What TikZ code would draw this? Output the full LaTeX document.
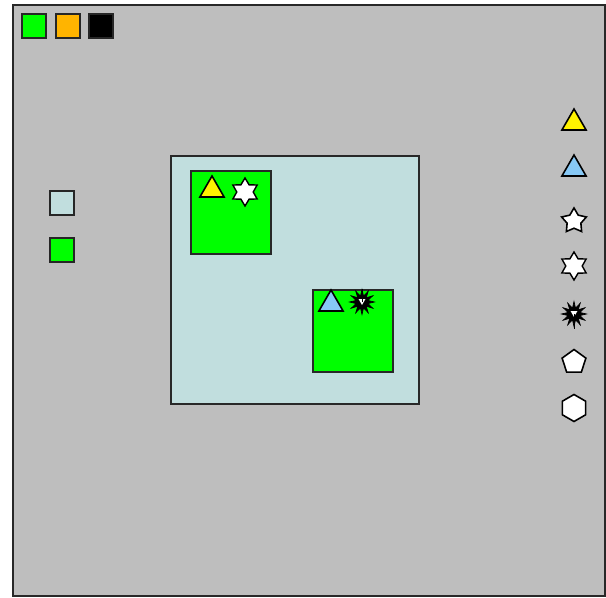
\documentclass[tikz,border=0pt]{standalone}
\usepackage{tikz}
\usetikzlibrary{shapes.geometric}
\definecolor{bggray}{RGB}{190,190,190}
\definecolor{paleblue}{RGB}{193,222,222}
\definecolor{keyorange}{RGB}{255,180,0}
\definecolor{skyblue}{RGB}{135,200,245}
\definecolor{framegray}{RGB}{40,40,40}

\begin{document}
\begin{tikzpicture}[x=0.02cm, y=-0.02cm]
\tikzset{box/.style={draw=framegray, line width=1.1pt, inner sep=0pt, anchor=north west}}
\tikzset{key/.style={box, draw=black!85, minimum size=0.48cm}}
\tikzset{tri/.style={draw=black, line width=0.9pt, regular polygon, regular polygon sides=3, minimum size=0.56cm, inner sep=0pt}}
\tikzset{starsix/.style={draw=black, fill=white, line width=0.8pt, star, star points=6, star point ratio=1.7, minimum size=0.56cm, inner sep=0pt}}
\tikzset{starfive/.style={draw=black, fill=white, line width=0.9pt, star, star points=5, star point ratio=1.8, minimum size=0.52cm, inner sep=0pt}}
\tikzset{burst/.style={draw=black, fill=black, line width=0.4pt, star, star points=12, star point ratio=2.1, minimum size=0.5cm, inner sep=0pt}}
\tikzset{poly/.style={draw=black, fill=white, line width=0.9pt, regular polygon, minimum size=0.5cm, inner sep=0pt}}
\useasboundingbox (0,0) rectangle (606,598);
% frame and nested boxes
\node[box, fill=bggray, line width=1.3pt, minimum width=11.84cm, minimum height=11.82cm] (frame) at (12,4) {};
\node[box, fill=paleblue, minimum size=4.96cm] (outer) at (170,155) {};
\node[box, fill=green, minimum width=1.6cm, minimum height=1.66cm] (boxa) at (190,170) {};
\node[box, fill=green, minimum width=1.6cm, minimum height=1.64cm] (boxb) at (312,289) {};
% keys
\node[key, fill=green] (k1) at (21,13) {};
\node[key, fill=keyorange] (k2) at (55,13) {};
\node[key, fill=black] (k3) at (88,13) {};
\node[key, fill=paleblue] (k4) at (49,190) {};
\node[key, fill=green] (k5) at (49,237) {};
% shapes inside the boxes
\node[tri, fill=yellow] (ta) at (212,190) {};
\node[starsix] (sa) at (245,192) {};
\node[tri, fill=skyblue] (tb) at (331,304) {};
\node[burst] (bb) at (362,302) {};
\node[fill=white, regular polygon, regular polygon sides=3, shape border rotate=180, minimum size=0.16cm, inner sep=0pt] (cb) at (362,301) {};
\coordinate (bbtop) at (362,289);
\draw[line width=0.5pt] (bb.center) -- (bbtop);
% column on the right
\node[tri, fill=yellow] (r1) at (574,123) {};
\node[tri, fill=skyblue] (r2) at (574,169) {};
\node[starfive] (r3) at (574,221) {};
\node[starsix] (r4) at (574,266) {};
\node[burst] (r5) at (574,314) {};
\node[fill=white, regular polygon, regular polygon sides=3, shape border rotate=180, minimum size=0.16cm, inner sep=0pt] (r5c) at (574,313) {};
\coordinate (r5bot) at (574,329);
\draw[line width=0.5pt] (r5.center) -- (r5bot);
\node[poly, regular polygon sides=5] (r6) at (574,362) {};
\node[poly, regular polygon sides=6, shape border rotate=30, minimum size=0.54cm] (r7) at (574,408) {};
\end{tikzpicture}
\end{document}
